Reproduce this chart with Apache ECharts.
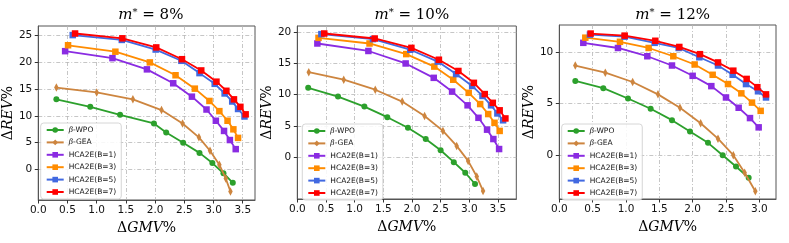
<!DOCTYPE html>
<html>
<head>
<meta charset="utf-8">
<script src="https://cdn.jsdelivr.net/npm/echarts@6/dist/echarts.min.js"></script>
<style>html,body{margin:0;padding:0;background:#fff}#c{width:789px;height:243px}</style>
</head>
<body>
<div id="c"></div>
<script>
// ---- data ----
const SERIES_NAMES = ['β-WPO', 'β-GEA', 'HCA2E(B=1)', 'HCA2E(B=3)', 'HCA2E(B=5)', 'HCA2E(B=7)'];
const PANEL_TITLES = ['8%', '10%', '12%'];

// m* = 8%
const WPO_8 = [[0.31,13.1],[0.89,11.7],[1.40,10.2],[1.98,8.6],[2.19,6.9],[2.48,5.0],[2.76,3.1],[2.98,1.2],[3.17,-0.7],[3.33,-2.5]];
const GEA_8 = [[0.31,15.3],[1.00,14.4],[1.62,13.1],[2.11,11.1],[2.47,8.6],[2.75,6.0],[2.94,3.5],[3.10,0.9],[3.21,-1.7],[3.29,-4.1]];
const B1_8  = [[0.46,22.1],[1.27,20.8],[1.86,18.7],[2.31,16.1],[2.63,13.6],[2.88,11.2],[3.04,9.1],[3.18,7.2],[3.28,5.5],[3.38,3.8]];
const B3_8  = [[0.51,23.2],[1.32,22.0],[1.91,20.0],[2.35,17.6],[2.68,15.1],[2.93,12.8],[3.10,10.9],[3.24,9.1],[3.34,7.5],[3.42,5.9]];
const B5_8  = [[0.59,25.1],[1.43,24.2],[2.01,22.4],[2.45,20.3],[2.76,18.0],[3.02,16.0],[3.19,14.2],[3.32,12.7],[3.42,11.3],[3.53,9.9]];
const B7_8  = [[0.63,25.4],[1.44,24.5],[2.02,22.8],[2.46,20.6],[2.79,18.5],[3.05,16.4],[3.22,14.7],[3.35,13.1],[3.46,11.7],[3.55,10.3]];

// m* = 10%
const WPO_10 = [[0.19,11.1],[0.71,9.7],[1.17,8.1],[1.57,6.4],[1.93,4.7],[2.24,2.9],[2.50,1.1],[2.73,-0.8],[2.93,-2.5],[3.10,-4.3]];
const GEA_10 = [[0.20,13.6],[0.81,12.4],[1.36,10.8],[1.83,8.9],[2.22,6.6],[2.54,4.2],[2.78,1.8],[2.98,-0.6],[3.13,-3.1],[3.24,-5.4]];
const B1_10  = [[0.35,18.2],[1.24,17.0],[1.89,15.0],[2.38,12.7],[2.70,10.5],[2.97,8.3],[3.16,6.3],[3.31,4.4],[3.42,2.9],[3.52,1.3]];
const B3_10  = [[0.37,19.1],[1.26,18.2],[1.90,16.5],[2.39,14.5],[2.72,12.4],[2.99,10.3],[3.19,8.5],[3.33,6.9],[3.44,5.5],[3.53,4.2]];
const B5_10  = [[0.42,19.7],[1.32,18.9],[1.97,17.2],[2.45,15.3],[2.77,13.3],[3.05,11.4],[3.23,9.8],[3.38,8.3],[3.49,7.0],[3.59,5.9]];
const B7_10  = [[0.47,19.8],[1.35,19.0],[1.99,17.5],[2.47,15.6],[2.81,13.8],[3.08,11.9],[3.27,10.1],[3.41,8.7],[3.53,7.5],[3.63,6.2]];

// m* = 12%
const WPO_12 = [[0.24,7.2],[0.66,6.5],[1.03,5.5],[1.37,4.5],[1.69,3.4],[1.96,2.3],[2.23,1.2],[2.45,0.0],[2.65,-1.1],[2.84,-2.2]];
const GEA_12 = [[0.24,8.7],[0.69,8.0],[1.10,7.1],[1.48,5.9],[1.81,4.6],[2.12,3.1],[2.38,1.6],[2.61,0.0],[2.78,-1.7],[2.94,-3.5]];
const B1_12  = [[0.36,10.9],[0.88,10.4],[1.32,9.6],[1.69,8.7],[2.00,7.7],[2.28,6.7],[2.50,5.6],[2.69,4.6],[2.86,3.6],[2.99,2.7]];
const B3_12  = [[0.39,11.4],[0.91,11.0],[1.34,10.4],[1.71,9.6],[2.03,8.8],[2.30,7.8],[2.53,6.9],[2.73,6.0],[2.89,5.1],[3.02,4.3]];
const B5_12  = [[0.46,11.7],[0.98,11.5],[1.43,10.9],[1.79,10.4],[2.10,9.5],[2.38,8.7],[2.60,7.8],[2.80,6.9],[2.98,6.2],[3.10,5.6]];
const B7_12  = [[0.47,11.8],[0.98,11.6],[1.44,11.1],[1.80,10.5],[2.11,9.8],[2.38,9.0],[2.61,8.2],[2.81,7.4],[2.97,6.6],[3.10,5.9]];

// ticks
const X_TICKS_8  = [0.0,0.5,1.0,1.5,2.0,2.5,3.0,3.5];
const X_TICKS_10 = [0.0,0.5,1.0,1.5,2.0,2.5,3.0,3.5];
const X_TICKS_12 = [0.0,0.5,1.0,1.5,2.0,2.5,3.0];
const Y_TICKS_8  = [0,5,10,15,20,25];
const Y_TICKS_10 = [0,5,10,15,20];
const Y_TICKS_12 = [0,5,10];

// ---- layout / style ----
const PANELS = [
  {data:[WPO_8,GEA_8,B1_8,B3_8,B5_8,B7_8], xt:X_TICKS_8, yt:Y_TICKS_8, xr:[0,3.71], yr:[-5.7,26.8],
   grid:{left:36.7, top:26, width:218.3, height:174}, legend:{left:40.7, top:123}},
  {data:[WPO_10,GEA_10,B1_10,B3_10,B5_10,B7_10], xt:X_TICKS_10, yt:Y_TICKS_10, xr:[0,3.82], yr:[-6.7,21.0],
   grid:{left:297.3, top:26, width:219, height:173}, legend:{left:302.3, top:124}},
  {data:[WPO_12,GEA_12,B1_12,B3_12,B5_12,B7_12], xt:X_TICKS_12, yt:Y_TICKS_12, xr:[0,3.25], yr:[-4.25,12.63],
   grid:{left:559.3, top:25, width:216.7, height:174}, legend:{left:561.7, top:124}}
];
const COLORS = ['#2ca02c','#cd853f','#8a2be2','#ff8c00','#4169e1','#ff0000'];
const SYMBOLS = ['circle','diamond','rect','rect','rect','rect'];
const SYMSIZE = [6,[4.5,8.5],6.5,6.5,6.5,6.5];

const GRID_LINE = {show:true, lineStyle:{color:'#b8b8b8', width:0.8, type:[4,2,1,2]}};
const FRAME = '#555';
const mathRich = {
  it:{fontFamily:'DejaVu Serif', fontStyle:'italic', fontSize:14, color:'#000'},
  up:{fontFamily:'DejaVu Serif', fontSize:14, color:'#000'}
};

const grids = [], xAxes = [], yAxes = [], series = [], legends = [], titles = [];
PANELS.forEach((p, i) => {
  grids.push(Object.assign({show:true, borderColor:FRAME, borderWidth:1, backgroundColor:'transparent'}, p.grid));
  xAxes.push({
    type:'value', gridIndex:i, min:p.xr[0], max:p.xr[1],
    axisLine:{show:true, onZero:false, lineStyle:{color:FRAME}},
    axisTick:{show:true, customValues:p.xt, length:3.5, lineStyle:{color:'#333'}},
    axisLabel:{customValues:p.xt, margin:5, fontFamily:'DejaVu Sans', fontSize:10.5, color:'#111',
               formatter:v=>v.toFixed(1)},
    splitLine:GRID_LINE,
    name:'{up|Δ}{it|GMV}{up|%}', nameLocation:'middle', nameGap:20,
    nameTextStyle:{rich:mathRich}
  });
  yAxes.push({
    type:'value', gridIndex:i, min:p.yr[0], max:p.yr[1],
    axisLine:{show:true, onZero:false, lineStyle:{color:FRAME}},
    axisTick:{show:true, customValues:p.yt, length:3.5, lineStyle:{color:'#333'}},
    axisLabel:{customValues:p.yt, margin:6, fontFamily:'DejaVu Sans', fontSize:10.5, color:'#111'},
    splitLine:GRID_LINE,
    name:'{up|Δ}{it|REV}{up|%}', nameLocation:'middle', nameGap:17,
    nameTextStyle:{rich:mathRich}
  });
  p.data.forEach((d, k) => {
    series.push({
      type:'line', name:SERIES_NAMES[k], xAxisIndex:i, yAxisIndex:i, data:d,
      symbol:SYMBOLS[k], symbolSize:SYMSIZE[k], showSymbol:true,
      lineStyle:{color:COLORS[k], width:1.8},
      itemStyle:{color:COLORS[k], borderWidth:0},
      animation:false, z:2+k
    });
  });
  legends.push({
    data:SERIES_NAMES, orient:'vertical', left:p.legend.left, top:p.legend.top,
    itemWidth:17, itemHeight:7, itemGap:4.4, padding:[3,5,3,5],
    backgroundColor:'rgba(255,255,255,0.85)', borderColor:'#ccc', borderWidth:0.8, borderRadius:3,
    selectedMode:false,
    formatter: n => n.startsWith('β') ? '{b|β}' + n.slice(1) : n,
    textStyle:{fontFamily:'DejaVu Sans', fontSize:7.5, color:'#111',
               rich:{b:{fontFamily:'DejaVu Serif', fontStyle:'italic', fontSize:7.5, color:'#111'}}}
  });
  titles.push({
    text:'{it|m}{sup|*}{up| = ' + PANEL_TITLES[i] + '}',
    left:p.grid.left + p.grid.width/2, top:2, textAlign:'center',
    textStyle:{fontWeight:'normal', rich:{
      it:{fontFamily:'DejaVu Serif', fontStyle:'italic', fontWeight:'normal', fontSize:15, color:'#000'},
      sup:{fontFamily:'DejaVu Serif', fontWeight:'normal', fontSize:10, color:'#000', padding:[0,0,7,0]},
      up:{fontFamily:'DejaVu Serif', fontWeight:'normal', fontSize:15, color:'#000'}
    }}
  });
});

const chart = echarts.init(document.getElementById('c'), null, {renderer:'canvas'});
chart.setOption({
  animation:false, backgroundColor:'#fff',
  title:titles, grid:grids, xAxis:xAxes, yAxis:yAxes, legend:legends, series:series
});
</script>
</body>
</html>
